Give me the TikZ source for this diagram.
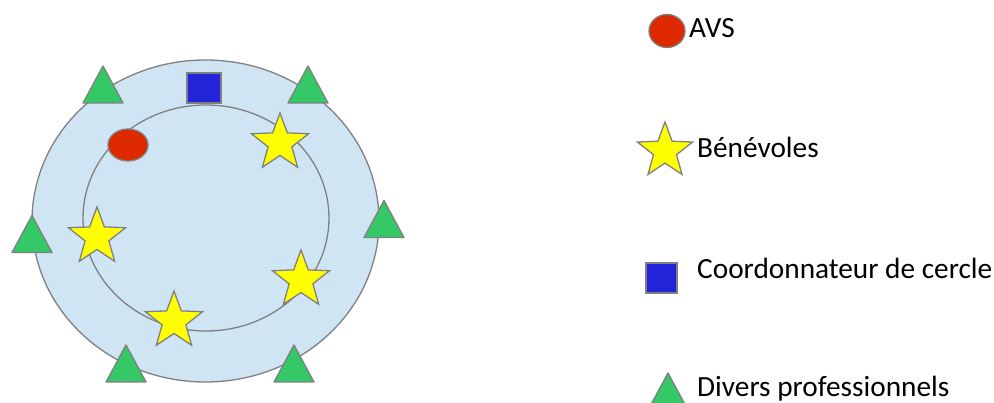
\documentclass[tikz,border=0pt]{standalone}
\usepackage{fontspec}
\setmainfont{Carlito}
\usetikzlibrary{shapes.geometric}
\definecolor{ring}{RGB}{207,229,243}
\definecolor{edge}{RGB}{128,128,128}
\definecolor{avs}{RGB}{221,40,0}
\definecolor{coord}{RGB}{35,35,218}
\definecolor{pro}{RGB}{52,200,102}
\definecolor{benev}{RGB}{255,255,0}
\tikzset{
  outline/.style={draw=edge, line width=1.3pt},
  avsdot/.style={outline, fill=avs, ellipse, inner sep=0pt},
  coordbox/.style={outline, fill=coord, rectangle, inner sep=0pt},
  benevstar/.style={outline, fill=benev, star, star points=5, star point ratio=2.4,
                    minimum size=60pt, inner sep=0pt},
  protri/.pic={\draw[outline, fill=pro, line join=round]
                 (-20,18.5) -- (20,18.5) -- (0,-18.5) -- cycle;},
  legend/.style={font=\fontsize{29.3}{34}\selectfont, anchor=base west, inner sep=0pt},
}

\begin{document}
\begin{tikzpicture}[x=1pt, y=-1pt]
  \useasboundingbox (0,0) rectangle (994,403);

  % the circle and its inner ring
  \draw[outline, fill=ring] (205.5,221) ellipse [x radius=173.5, y radius=161];
  \draw[outline] (206,218) ellipse [x radius=123, y radius=113];

  % members
  \node[coordbox, minimum width=34pt, minimum height=30pt] (coord) at (204,88) {};
  \node[avsdot, minimum width=40pt, minimum height=32pt] (avs) at (128,145) {};
  \node[benevstar] (b1) at (280,143) {};
  \node[benevstar] (b2) at (97,237) {};
  \node[benevstar] (b3) at (301,280) {};
  \node[benevstar] (b4) at (174,321) {};
  \foreach \px/\py in {103/84.5, 308/84.5, 32/234, 384/219, 126/363.5, 294/363.5}
    \pic at (\px,\py) {protri};

  % legend
  \node[avsdot, minimum width=36pt, minimum height=33pt] (lavs) at (667,31) {};
  \node[legend] (tavs) at (689,38) {AVS};
  \node[benevstar, minimum size=58pt] (lbenev) at (665,151) {};
  \node[legend] (tbenev) at (697,158) {Bénévoles};
  \node[coordbox, minimum width=31pt, minimum height=30pt] (lcoord) at (661.5,278) {};
  \node[legend] (tcoord) at (697,279) {Coordonnateur de cercle};
  \pic at (668,391.5) {protri};
  \node[legend] (tpro) at (697,397) {Divers professionnels};
\end{tikzpicture}
\end{document}
